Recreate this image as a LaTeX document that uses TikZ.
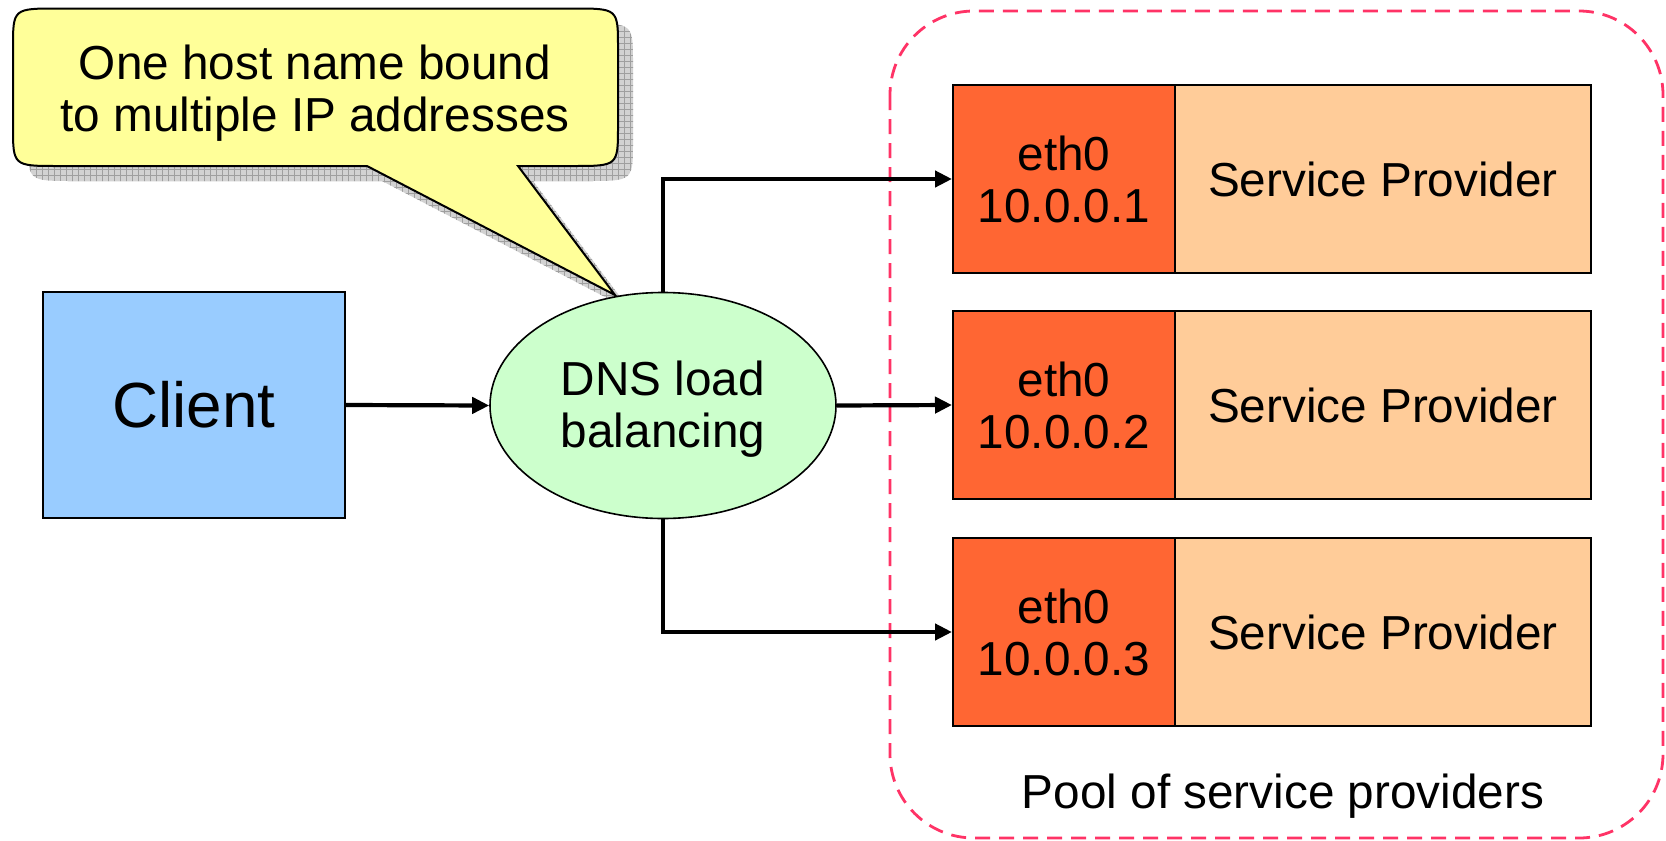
\documentclass[tikz,border=0pt]{standalone}
\usepackage{fontspec}
\setmainfont{Liberation Sans}
\usetikzlibrary{arrows.meta,shapes.geometric,patterns}
\definecolor{clientblue}{HTML}{99CCFF}
\definecolor{dnsgreen}{HTML}{CCFFCC}
\definecolor{ethorange}{HTML}{FF6633}
\definecolor{provpeach}{HTML}{FFCC99}
\definecolor{noteyellow}{HTML}{FFFF99}
\definecolor{poolpink}{HTML}{FF3366}
\newcommand\txtfont{\fontsize{23.85pt}{26pt}\selectfont}
\newcommand\bigtxtfont{\fontsize{31.9pt}{36pt}\selectfont}
% outline of the speech bubble (pixel-like units)
\newcommand\bubblepath{(367,166) -- (58,166) .. controls (13,166) .. (13,126) -- (13,48) .. controls (13,8.5) .. (58,8.5) -- (573,8.5) .. controls (618,8.5) .. (618,48) -- (618,126) .. controls (618,166) .. (573,166) -- (518,166) -- (615,295) -- cycle}
\begin{document}
\begin{tikzpicture}[x=0.5pt,y=-0.5pt,
  conn/.style={line width=2.1pt,-{Triangle[length=8.5pt,width=8pt]}},
  boxbase/.style={draw=black,line width=1pt,inner sep=0pt,align=center,font=\txtfont},
  ethbox/.style={boxbase,fill=ethorange,minimum width=111pt,minimum height=94pt},
  provbox/.style={boxbase,fill=provpeach,minimum width=208pt,minimum height=94pt},
  clientbox/.style={draw=black,line width=0.8pt,fill=clientblue,minimum width=151pt,minimum height=113pt,font=\bigtxtfont},
  dnsnode/.style={ellipse,draw=black,line width=0.8pt,fill=dnsgreen,minimum width=173pt,minimum height=113pt,inner sep=0pt},
  pool/.style={draw=poolpink,line width=1.4pt,dash pattern=on 7.5pt off 4.5pt,rounded corners=42pt},
  bubble/.style={draw=black,line width=1pt,fill=noteyellow}]
\useasboundingbox (0,0) rectangle (1666,841);

% pool of service providers
\draw[pool] (890,11) rectangle (1663,838);
\node[font=\txtfont] (poollabel) at (1283,796) {Pool of service providers};

% speech bubble with its shadow
\begin{scope}[xshift=7.5pt,yshift=-7.5pt]
  \fill[gray!35] \bubblepath;
  \fill[pattern=grid,pattern color=gray!75] \bubblepath;
\end{scope}
\draw[bubble] \bubblepath;
\node[font=\txtfont,align=center] (note) at (315,93) {One host name bound\\to multiple IP addresses};

% client and DNS
\node[clientbox] (client) at (194,405) {Client};
\node[dnsnode,label={[name=dnstext,font=\txtfont,align=center,yshift=-2pt]center:DNS load\\balancing}] (dns) at (663,405.5) {};

% service providers
\node[ethbox] (eth1) at (1064,179) {eth0\\10.0.0.1};
\node[provbox] (sp1) at (1383,179) {Service Provider};
\node[ethbox] (eth2) at (1064,405) {eth0\\10.0.0.2};
\node[provbox] (sp2) at (1383,405) {Service Provider};
\node[ethbox] (eth3) at (1064,632) {eth0\\10.0.0.3};
\node[provbox] (sp3) at (1383,632) {Service Provider};

% connectors
\draw[conn] (client.east) -- (dns.west);
\draw[conn] (dns.north) |- (eth1.west);
\draw[conn] (dns.east) -- (eth2.west);
\draw[conn] (dns.south) |- (eth3.west);
\end{tikzpicture}
\end{document}
